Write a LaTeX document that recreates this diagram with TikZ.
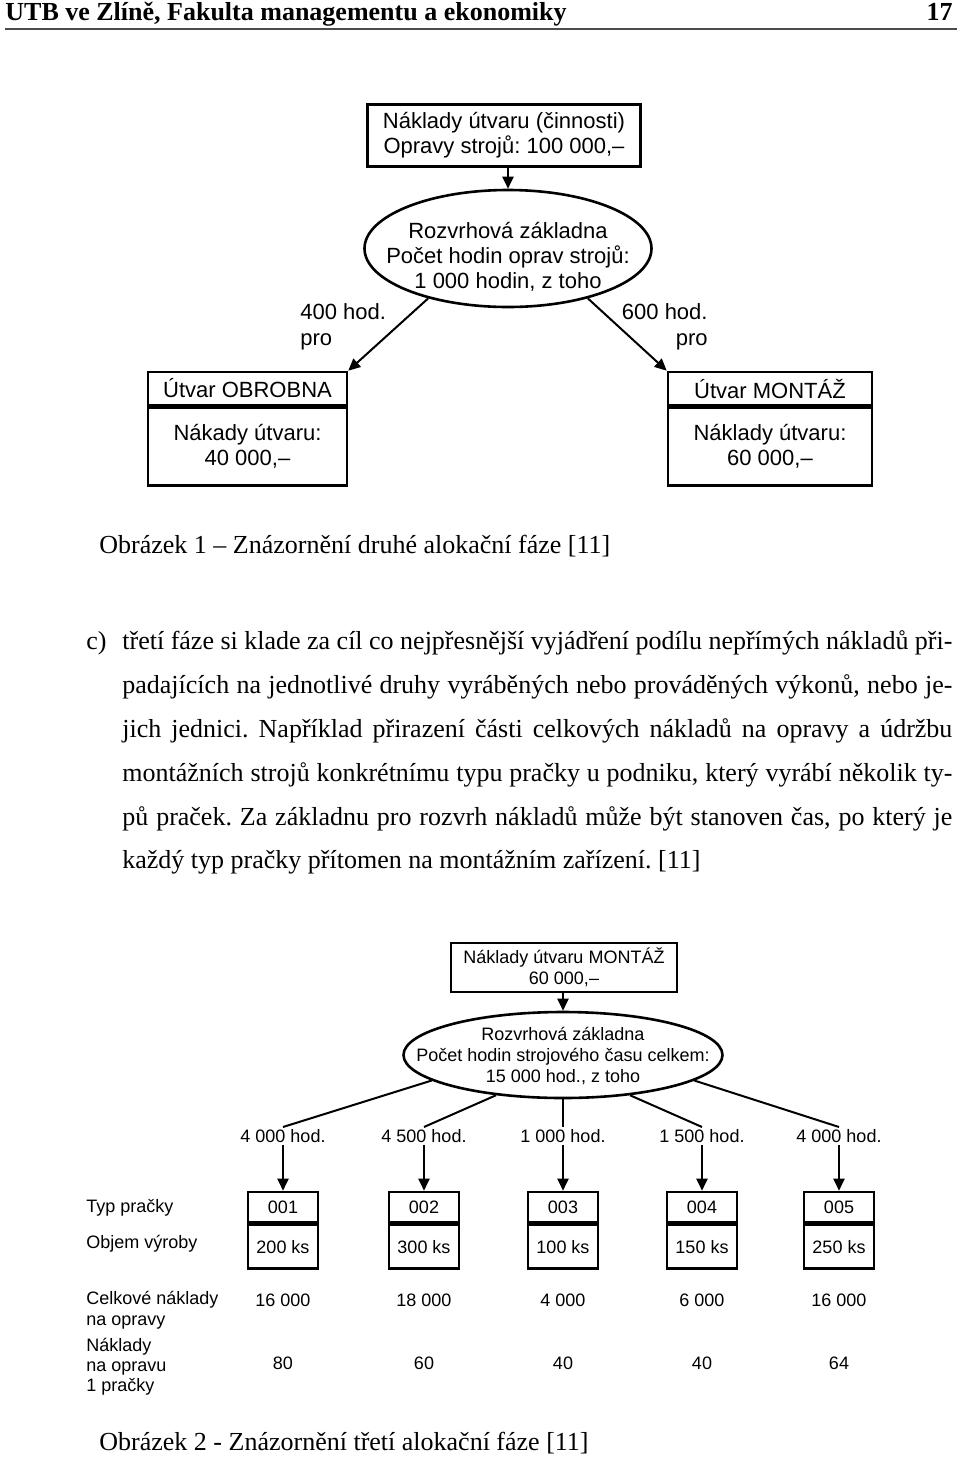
\documentclass[tikz,border=0pt]{standalone}
\usepackage{fontspec}
\setmainfont{Liberation Serif}
\setsansfont{Liberation Sans}
\usetikzlibrary{arrows.meta,shapes.geometric}
\frenchspacing

\begin{document}
\begin{tikzpicture}[
  x=.5pt,y=-.5pt,
  header/.style={font=\bfseries\fontsize{13}{15}\selectfont,inner sep=0pt},
  rule/.style={draw=black!70,line width=1pt},
  body/.style={font=\fontsize{13}{15}\selectfont,inner sep=0pt},
  figa/.style={font=\sffamily\fontsize{11}{12.5}\selectfont,inner sep=0pt,align=center},
  figb/.style={font=\sffamily\fontsize{9}{10.5}\selectfont,inner sep=0pt,align=center},
  costbox/.style={draw,line width=1.4pt,align=center,inner sep=0pt},
  basis/.style={draw,ellipse,line width=1.3pt,inner sep=0pt},
  unit/.style={draw,line width=1.3pt,align=center,inner sep=0pt},
  flow/.style={line width=1pt,-{Triangle[length=6pt,width=5.5pt]}},
  branch/.style={line width=1pt}
]
\path[use as bounding box] (0,0) rectangle (960,1457);

% page head
\node[header,anchor=base west] (title) at (5,20) {UTB ve Zlíně, Fakulta managementu a ekonomiky};
\node[header,anchor=base east] (pageno) at (953,20) {17};
\draw[rule] (5,29) -- (957,29);

% second allocation phase
\node[costbox,figa,minimum width=136.5pt,minimum height=31pt] (cost) at (504,135.5)
  {Náklady útvaru (činnosti)\\Opravy strojů: 100 000,–};
\node[basis,minimum width=143.5pt,minimum height=58.5pt] (basis1) at (508,248.5) {};
\node[figa] (basis1text) at (508,257) {Rozvrhová základna\\Počet hodin oprav strojů:\\1 000 hodin, z toho};
\draw[flow] (cost.south -| basis1.north) -- (basis1.north);

\node[unit,figa,minimum width=99.5pt,minimum height=16.5pt] (obrobnaHead) at (247.5,388.5) {Útvar OBROBNA};
\node[unit,figa,anchor=north,minimum width=99.5pt,minimum height=39pt] (obrobnaBody) at (obrobnaHead.south)
  {Nákady útvaru:\\40 000,–};
\node[unit,figa,minimum width=102pt,minimum height=16.5pt] (montazHead) at (770,388.5) {Útvar MONTÁŽ};
\node[unit,figa,anchor=north,minimum width=102pt,minimum height=39pt] (montazBody) at (montazHead.south)
  {Náklady útvaru:\\60 000,–};

\draw[flow] (basis1.212) -- (obrobnaHead.north east);
\draw[flow] (basis1.328) -- (montazHead.north west);
\node[figa,align=left,anchor=west,font=\sffamily\fontsize{11}{13}\selectfont] (shareLeft) at (300,327) {400 hod.\\pro};
\node[figa,align=right,anchor=east,font=\sffamily\fontsize{11}{13}\selectfont] (shareRight) at (708,327) {600 hod.\\pro};

\node[body,anchor=base west] (caption1) at (99,553) {Obrázek 1 – Znázornění druhé alokační fáze [11]};

% item c)
\node[body,anchor=base west] (itemc) at (86,649) {c)};
\foreach \txt [count=\i] in {
  {třetí fáze si klade za cíl co nejpřesnější vyjádření podílu nepřímých nákladů při-},
  {padajících na jednotlivé druhy vyráběných nebo prováděných výkonů, nebo je-},
  {jich jednici. Například přirazení části celkových nákladů na opravy a údržbu},
  {montážních strojů konkrétnímu typu pračky u podniku, který vyrábí několik ty-},
  {pů praček. Za základnu pro rozvrh nákladů může být stanoven čas,  po který je}}
  \node[body,anchor=base west] (line\i) at (122,{649+44*(\i-1)}) {\makebox[415pt][s]{\txt}};
\node[body,anchor=base west] (line6) at (122,868) {každý typ pračky přítomen na montážním zařízení. [11]};

% third allocation phase
\node[costbox,figb,minimum width=113pt,minimum height=24.5pt]
  (montazCost) at (564,967.5) {Náklady útvaru MONTÁŽ\\60 000,–};
\node[basis,minimum width=159.5pt,minimum height=43pt] (basis2) at (563,1055) {};
\node[figb] (basis2text) at (563,1056) {Rozvrhová základna\\Počet hodin strojového času celkem:\\15 000 hod., z toho};
\draw[flow] (montazCost.south -| basis2.north) -- (basis2.north);

\foreach \ang/\hours/\code/\volume/\total/\unitcost/\xx [count=\i] in {
  191/4 000 hod./001/200 ks/16 000/80/283,
  211/4 500 hod./002/300 ks/18 000/60/424,
  270/1 000 hod./003/100 ks/4 000/40/563,
  329/1 500 hod./004/150 ks/6 000/40/702,
  349/4 000 hod./005/250 ks/16 000/64/839}{
  \node[figb,inner sep=1pt] (share\i) at (\xx,1136) {\hours};
  \draw[branch] (basis2.\ang) -- (share\i.north);
  \node[unit,figb,minimum width=35pt,minimum height=15pt] (code\i) at (\xx,1207) {\code};
  \node[unit,figb,anchor=north,minimum width=35pt,minimum height=22pt] (volume\i) at (code\i.south) {\volume};
  \draw[flow] (share\i.south) -- (code\i.north);
  \node[figb] (total\i) at (\xx,1300) {\total};
  \node[figb] (unitcost\i) at (\xx,1363) {\unitcost};
}

\node[figb,align=left,anchor=west] (typeRow) at (86,1208) {Typ pračky};
\node[figb,align=left,anchor=west] (volumeRow) at (86,1244) {Objem výroby};
\node[figb,align=left,anchor=west] (totalRow) at (86,1310) {Celkové náklady\\na opravy};
\node[figb,align=left,anchor=west,font=\sffamily\fontsize{9}{10}\selectfont] (unitRow) at (86,1367) {Náklady\\na opravu\\1 pračky};

\node[body,anchor=base west] (caption2) at (99,1450) {Obrázek 2 - Znázornění třetí alokační fáze [11]};
\end{tikzpicture}
\end{document}
